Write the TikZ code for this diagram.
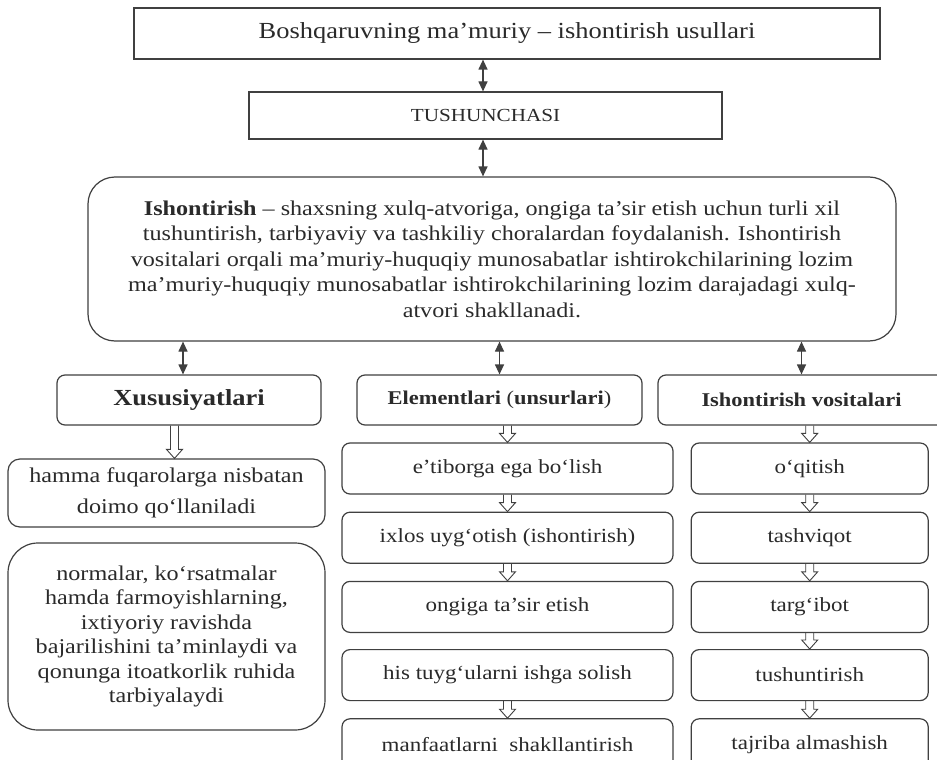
\documentclass[tikz,border=0pt]{standalone}
\usepackage{fontspec}
\setmainfont[FakeStretch=1.15]{Liberation Serif}
\usepackage{tikz}
\usetikzlibrary{positioning,arrows.meta,calc}
\definecolor{tline}{HTML}{404040}
\definecolor{ttext}{HTML}{2A2A2A}
\newcommand{\fs}[2]{\fontsize{#1}{#2}\selectfont}

\begin{document}
\begin{tikzpicture}[x=1pt, y=1pt, node distance=17pt, text=ttext,
  box/.style={draw=tline, line width=1.2pt, inner sep=0pt, align=center},
  rbox/.style={box, rounded corners=8pt},
  item/.style={rbox, minimum width=331pt, minimum height=51pt, font=\fs{20}{24}},
  tool/.style={rbox, minimum width=237pt, minimum height=51pt, font=\fs{20}{24}},
  dbl/.style={draw=tline, line width=1.2pt, {Triangle[length=10pt,width=9pt]}-{Triangle[length=10pt,width=9pt]}},
  hollow/.style={draw=tline, line width=0.9pt, to path={let \p1=(\tikztostart), \p2=(\tikztotarget) in
    (\x2-4pt,\y1) -- (\x2-4pt,\y2+9pt) -- (\x2-8pt,\y2+9pt) -- (\x2,\y2) -- (\x2+8pt,\y2+9pt) -- (\x2+4pt,\y2+9pt) -- (\x2+4pt,\y1)}}]
\path[use as bounding box, fill=white] (0,0) rectangle (937,-760);
% head
\node[box, minimum width=746pt, minimum height=51pt, font=\fs{23}{27}] (title) at (507,-33.5) {Boshqaruvning ma’muriy – ishontirish usullari};
\node[box, minimum width=473pt, minimum height=47pt, font=\fs{18.4}{22}] (tush) at (485.5,-115.5) {TUSHUNCHASI};
\node[box, rounded corners=27pt, minimum width=808pt, minimum height=164pt, font=\fs{21}{25.5}] (def) at (492,-259)
  {\textbf{Ishontirish} – shaxsning xulq-atvoriga, ongiga ta’sir etish uchun turli xil\\
   tushuntirish, tarbiyaviy va tashkiliy choralardan foydalanish. Ishontirish\\
   vositalari orqali ma’muriy-huquqiy munosabatlar ishtirokchilarining lozim\\
   ma’muriy-huquqiy munosabatlar ishtirokchilarining lozim darajadagi xulq-\\
   atvori shakllanadi.};
\draw[dbl] ([xshift=-24pt]title.south) -- ($(title.south |- tush.north)+(-24,0)$);
\draw[dbl] ([xshift=-2.5pt]tush.south) -- ($(tush.south |- def.north)+(-2.5,0)$);
% three headers
\node[rbox, minimum width=264pt, minimum height=50pt, font=\fs{23}{27}\bfseries] (xus) at (189,-400) {Xususiyatlari};
\node[rbox, minimum width=285pt, minimum height=50pt, font=\fs{19.5}{23}] (elem) at (499.5,-400) {\textbf{Elementlari} (\textbf{unsurlari})};
\node[rbox, minimum width=287pt, minimum height=50pt, font=\fs{19.5}{23}\bfseries] (vos) at (801.5,-400) {Ishontirish vositalari};
\draw[dbl] ($(xus.north |- def.south)+(-6,0)$) -- ([xshift=-6pt]xus.north);
\draw[dbl] (elem.north |- def.south) -- (elem.north);
\draw[dbl] (vos.north |- def.south) -- (vos.north);
% left column
\node[rbox, rounded corners=12pt, minimum width=317pt, minimum height=68pt, font=\fs{21}{31}] (hamma) at (166.5,-493) {hamma fuqarolarga nisbatan\\doimo qo‘llaniladi};
\node[rbox, rounded corners=30pt, minimum width=317pt, minimum height=187pt, font=\fs{21}{24.5}] (norm) at (166.5,-636.5)
  {normalar, ko‘rsatmalar\\ hamda farmoyishlarning,\\ ixtiyoriy ravishda\\ bajarilishini ta’minlaydi va\\ qonunga itoatkorlik ruhida\\ tarbiyalaydi};
% middle column
\node[item] (e1) at (507.5,-468.5) {e’tiborga ega bo‘lish};
\node[item, below=of e1] (e2) {ixlos uyg‘otish (ishontirish)};
\node[item, below=of e2] (e3) {ongiga ta’sir etish};
\node[item, below=16pt of e3] (e4) {his tuyg‘ularni ishga solish};
\node[item, below=of e4, minimum height=52pt] (e5) {manfaatlarni~ shakllantirish};
% right column
\node[tool, right=of e1] (v1) {o‘qitish};
\node[tool, right=of e2] (v2) {tashviqot};
\node[tool, right=of e3] (v3) {targ‘ibot};
\node[tool, right=of e4] (v4) {tushuntirish};
\node[tool, right=of e5, minimum height=52pt] (v5) {tajriba almashish};
% hollow arrows
\draw[hollow] (xus.south) to ([xshift=8pt]hamma.north);
\foreach \a/\b in {elem/e1, e1/e2, e2/e3, e4/e5, vos/v1, v1/v2, v2/v3, v3/v4, v4/v5}
  \draw[hollow] (\a.south) to (\b.north);
\end{tikzpicture}
\end{document}
